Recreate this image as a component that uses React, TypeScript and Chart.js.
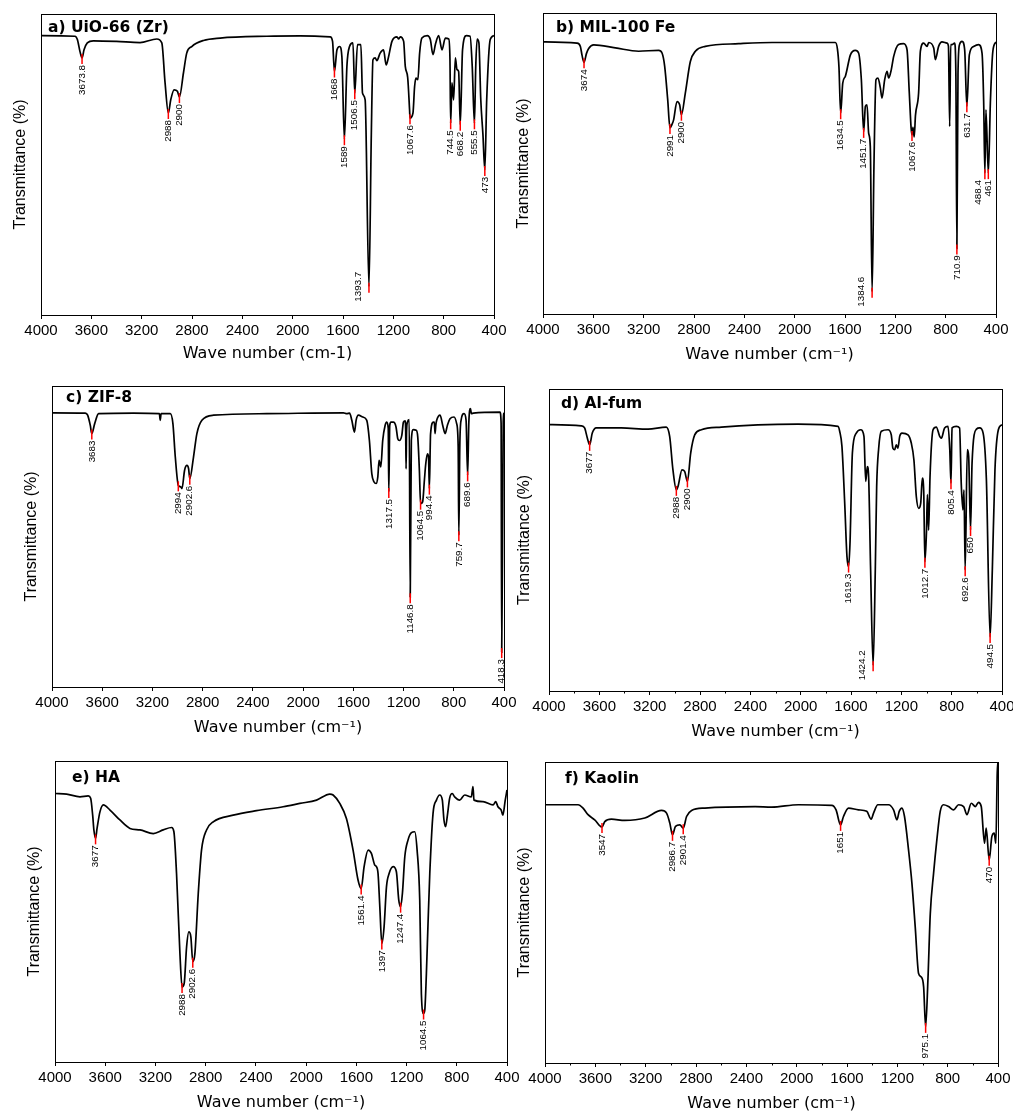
import React, { useEffect, useRef } from 'react';
import { Chart, registerables } from 'chart.js';

Chart.register(...registerables);

type Pair = [number, number]; // [wavenumber cm-1, relative transmittance (0 = bottom of frame, 100 = top)]

// ---------- DATA ----------
const uioSpectrum: Pair[] = [
  [4000, 92.8], [3730, 92.6], [3711, 91.5], [3690, 87.5], [3673.8, 85.4], [3658, 88.1], [3632, 90.4], [3584, 91.1],
  [3400, 90.9], [3213, 90.5], [3080, 91.7], [3040, 90.4], [3014, 77.1], [2988, 67.1], [2969, 71.5], [2942, 74.8],
  [2916, 74.3], [2900, 72.4], [2868, 80.4], [2842, 87.0], [2802, 89.2], [2709, 91.2], [2576, 92.0], [2205, 92.6],
  [1940, 92.7], [1702, 92.4], [1683, 90.9], [1668, 80.9], [1648, 88.1], [1627, 89.2], [1609, 85.9], [1589, 58.4],
  [1569, 82.6], [1548, 89.2], [1521, 90.4], [1506.5, 73.7], [1485, 89.8], [1458, 89.8], [1445, 73.7], [1424, 71.5],
  [1393.7, 9.4], [1375, 60], [1362, 84.8], [1344, 85.4], [1331, 84.5], [1305, 87.0], [1278, 88.1], [1257, 83.1],
  [1240, 85.4], [1211, 90.9], [1171, 92.4], [1158, 91.7], [1145, 92.4], [1118, 90.9], [1105, 82.6], [1086, 78.9],
  [1071, 68.2], [1067.6, 65.4], [1044, 67.1], [1031, 75.9], [1020, 78.7], [1005, 78.2], [991, 87.0], [973, 92.0],
  [930, 92.8], [906, 91.5], [885, 86.5], [865, 90], [840, 92.8], [813, 88.1], [787, 92.0], [760, 91.7], [750, 85],
  [744.5, 63.7], [734, 77.1], [721, 71.5], [707, 85.4], [694, 81.5], [681, 80.9], [668.2, 63.2], [650, 88.1],
  [620, 92.8], [590, 92.6], [573, 82.6], [555.5, 63.7], [545, 82.6], [534, 91.7], [520, 90.4], [505, 71.5],
  [488, 60], [473, 48.2], [458, 71.5], [430, 91.5], [400, 92.8],
];
const uioPeaks = [3673.8, 2988, 2900, 1668, 1589, 1506.5, 1393.7, 1067.6, 744.5, 668.2, 555.5, 473];

const milSpectrum: Pair[] = [
  [4000, 90.4], [3730, 90.0], [3703, 88.9], [3690, 86], [3674, 83.6], [3655, 86.5], [3637, 88.2], [3597, 89.4],
  [3425, 88.4], [3240, 87.3], [3081, 87.6], [3054, 86.7], [3033, 82.3], [3009, 71.2], [2991, 61.8], [2975, 63],
  [2962, 64.5], [2935, 70.6], [2914, 69.5], [2900, 66.2], [2869, 73.4], [2829, 83.9], [2789, 87.3], [2710, 88.9],
  [2445, 89.8], [2180, 90.2], [1677, 90.2], [1660, 88], [1648, 82], [1634.5, 66.7], [1618, 76.7], [1597, 79.0],
  [1557, 86.1], [1518, 87.6], [1492, 86.7], [1470, 77.8], [1451.7, 60.5], [1438, 69.0], [1425, 69.5], [1412, 60.1],
  [1399, 55.7], [1384.6, 7.4], [1370, 49], [1354, 77.8], [1338, 78.4], [1319, 75.1], [1306, 71.7], [1285, 77.8],
  [1266, 80.6], [1253, 78.4], [1232, 81.2], [1213, 85.6], [1174, 89.5], [1134, 89.8], [1107, 87.8], [1089, 73.4],
  [1075, 62], [1067.6, 59.5], [1060, 62], [1050, 58.8], [1040, 66], [1015, 73.4], [1001, 87.3], [975, 90.0],
  [948, 88.9], [935, 90.2], [895, 88.4], [882, 84.5], [856, 88.9], [829, 90.4], [790, 90.0], [778, 89],
  [768, 62.3], [760, 89.5], [750, 89.5], [729, 90], [719, 80], [710.9, 21.8], [702, 80], [690, 89.5],
  [670, 90.6], [649, 87.8], [631.7, 69.0], [612, 86.1], [578, 88.9], [538, 89.5], [511, 86.7], [498, 70.6],
  [488.4, 46.8], [480, 67.8], [461, 46.8], [444, 71.2], [425, 87.3], [400, 90.4],
];
const milPeaks = [3674, 2991, 2900, 1634.5, 1451.7, 1384.6, 1067.6, 710.9, 631.7, 488.4, 461];

const zifSpectrum: Pair[] = [
  [4000, 91.1], [3735, 91.0], [3716, 90.3], [3695, 86.9], [3683, 84.2], [3660, 87.5], [3629, 90.8], [3350, 91.0],
  [3145, 90.8], [3138, 88.6], [3131, 90.8], [3058, 90.8], [3037, 87.5], [3018, 76.4], [2994, 67.0], [2975, 66.5],
  [2965, 65.9], [2944, 72.0], [2925, 73.6], [2912, 72.5], [2902.6, 69.2], [2873, 76.4], [2846, 84.2], [2806, 88.6],
  [2713, 90.3], [2289, 90.8], [1679, 91.1], [1652, 90.8], [1630, 91.0], [1612, 88.6], [1591, 84.7], [1578, 88.6],
  [1559, 90.3], [1525, 89.7], [1493, 88.6], [1472, 81.9], [1453, 70.9], [1435, 68.1], [1419, 67.6], [1405, 69.8],
  [1395, 75.3], [1381, 73.1], [1366, 81.9], [1347, 86.9], [1334, 88.0], [1322, 86], [1317.5, 64.8], [1310, 86.9],
  [1300, 88.0], [1281, 88.0], [1260, 86.4], [1246, 82.5], [1233, 81.9], [1214, 83.6], [1201, 88.0], [1188, 88.4],
  [1183, 85], [1180, 72.5], [1176, 85], [1169, 88.0], [1155, 88.8], [1146.8, 29.8], [1138, 82], [1122, 85.5],
  [1100, 85.3], [1087, 83.1], [1074, 72.0], [1064.5, 60.9], [1048, 61.5], [1034, 68.7], [1023, 74.2], [1010, 77.5],
  [1001, 76.4], [994.4, 65.9], [985, 84], [962, 88.0], [955, 88], [949, 84.2], [943, 87], [936, 88.6],
  [909, 90.3], [888, 86.9], [869, 84.2], [851, 86.9], [830, 89.1], [798, 89.7], [777, 87.5], [765, 80],
  [759.7, 50.4], [752, 80], [742, 88.6], [718, 90.8], [702, 88.6], [689.6, 70.3], [680, 88.0], [667, 92.5],
  [660, 90.8], [644, 91.0], [432, 91.3], [423, 87.5], [418.3, 11.6], [410, 60], [406, 88], [400, 91.1],
];
const zifPeaks = [3683, 2994, 2902.6, 1317.5, 1146.8, 1064.5, 994.4, 759.7, 689.6, 418.3];

const alfumSpectrum: Pair[] = [
  [4000, 88.2], [3743, 87.8], [3717, 87.1], [3695, 83.7], [3677, 81.5], [3656, 85.4], [3624, 87.1], [3425, 87.1],
  [3213, 86.7], [3068, 87.4], [3041, 84.3], [3015, 73.2], [2988, 66.6], [2975, 67.7], [2943, 73.2], [2922, 72.7],
  [2900, 69.4], [2874, 78.8], [2842, 84.8], [2789, 86.5], [2630, 87.4], [2021, 88.4], [1703, 87.6], [1690, 86.0],
  [1672, 81.0], [1650, 62.2], [1632, 44.5], [1619.3, 41.2], [1608, 48.9], [1589, 78.8], [1558, 85.4], [1523, 86.5],
  [1497, 84.3], [1483, 69.4], [1470, 74.3], [1460, 71.0], [1444, 40.0], [1424.2, 8.5], [1407, 40.0], [1396, 67.7],
  [1380, 80.4], [1359, 86.0], [1306, 86.5], [1280, 84.8], [1267, 80.4], [1253, 79.9], [1240, 81.5], [1227, 80.4],
  [1213, 84.3], [1195, 85.4], [1147, 84.8], [1121, 82.1], [1100, 76.5], [1081, 64.4], [1062, 60.5], [1046, 62.2],
  [1033, 70.5], [1022, 66], [1012.7, 42.8], [1000, 53], [993, 65], [983, 53.3], [972, 71.0], [948, 86.5],
  [922, 87.4], [895, 84.3], [882, 83.7], [856, 87.1], [829, 87.6], [815, 80], [805.4, 68.8], [797, 87.1],
  [763, 87.6], [737, 87.1], [724, 68.8], [711, 60.0], [702, 66.6], [692.6, 40.0], [676, 79.9], [665, 77.7],
  [650, 53.3], [638, 75.4], [603, 86.7], [577, 87.1], [550, 85.4], [524, 69.9], [494.5, 17.9], [477, 40.0],
  [456, 73.2], [429, 86.5], [400, 88.2],
];
const alfumPeaks = [3677, 2988, 2900, 1619.3, 1424.2, 1012.7, 805.4, 692.6, 650, 494.5];

const haSpectrum: Pair[] = [
  [4000, 89.2], [3907, 89.0], [3801, 88.1], [3735, 88.4], [3716, 87.6], [3700, 82], [3690, 77], [3677, 74.3],
  [3665, 77.6], [3642, 83.1], [3615, 85.4], [3562, 83.7], [3483, 80.4], [3403, 77.6], [3323, 77.1], [3217, 75.9],
  [3138, 77.1], [3071, 77.9], [3053, 76.5], [3032, 62.6], [3005, 36.0], [2988, 24.9], [2971, 26.1], [2952, 38.2],
  [2934, 43.2], [2918, 41.6], [2902.6, 33.3], [2886, 36.0], [2859, 56.0], [2833, 70.4], [2793, 77.1], [2740, 79.8],
  [2581, 82.0], [2395, 83.5], [2183, 84.8], [2050, 85.9], [1917, 87.0], [1811, 89.0], [1785, 88.7], [1732, 85.9],
  [1679, 80.9], [1626, 70.4], [1586, 60.4], [1561.4, 57.6], [1538, 64.9], [1506, 70.4], [1480, 69.3], [1453, 65.4],
  [1440, 64.9], [1427, 62.6], [1413, 51.6], [1397, 39.4], [1379, 44.9], [1360, 58.2], [1339, 62.6], [1307, 64.9],
  [1281, 63.2], [1262, 53.8], [1247.4, 51.6], [1233, 56.0], [1214, 68.2], [1188, 73.8], [1161, 76.2], [1135, 76.5],
  [1116, 70.4], [1095, 53.8], [1082, 22.7], [1064.5, 16.1], [1055, 17.2], [1042, 29.4], [1029, 46.0], [1015, 62.6],
  [989, 82.6], [962, 87.0], [936, 88.7], [915, 87.0], [902, 80.4], [889, 78.2], [876, 81.5], [857, 87.6],
  [836, 89.2], [817, 88.1], [777, 87.0], [737, 88.7], [684, 88.1], [671, 91.5], [663, 87.0], [591, 86.5],
  [511, 85.4], [490, 86.5], [472, 84.8], [446, 83.7], [433, 82.0], [414, 87.0], [400, 90.4],
];
const haPeaks = [3677, 2988, 2902.6, 1561.4, 1397, 1247.4, 1064.5];

const kaolinSpectrum: Pair[] = [
  [4000, 85.8], [3737, 85.8], [3698, 84.7], [3658, 82.5], [3605, 80.8], [3547, 78.4], [3525, 80.2], [3472, 81.0],
  [3366, 80.6], [3207, 81.4], [3074, 83.9], [3034, 83.0], [3008, 79.7], [2986.7, 75.8], [2963, 78.6], [2928, 79.1],
  [2901.4, 78.0], [2875, 81.9], [2835, 83.9], [2729, 84.7], [2331, 85.2], [2199, 85.0], [1986, 85.8], [1721, 85.6],
  [1687, 84.1], [1651, 79.1], [1628, 81.9], [1588, 84.7], [1509, 84.1], [1443, 83.6], [1408, 81.0], [1389, 83.0],
  [1355, 85.8], [1270, 85.8], [1230, 84.1], [1203, 80.8], [1185, 83.6], [1164, 84.7], [1143, 81.9], [1111, 70.8],
  [1084, 59.7], [1058, 45.3], [1031, 29.7], [1010, 28.6], [991, 25.3], [975.1, 12.0], [957, 27.5], [938, 49.7],
  [912, 63.0], [886, 74.1], [859, 83.6], [833, 85.8], [793, 85.2], [753, 84.1], [713, 85.8], [673, 85.2],
  [647, 82.5], [612, 86.3], [580, 85.2], [555, 86.6], [533, 85.2], [507, 73.0], [494, 78.0], [470, 67.5],
  [449, 75.2], [430, 76.4], [417, 73.0], [406, 96.3], [400, 100],
];
const kaolinPeaks = [3547, 2986.7, 2901.4, 1651, 975.1, 470];

const xTickValues = [4000, 3600, 3200, 2800, 2400, 2000, 1600, 1200, 800, 400];
const panelTitles = ['a) UiO-66 (Zr)', 'b) MIL-100 Fe', 'c) ZIF-8', 'd) Al-fum', 'e) HA', 'f) Kaolin'];

// ---------- LAYOUT ----------
const Y_AXIS_W = 34;
const X_AXIS_H = 52;
const PAD_TOP = 6;
const PAD_RIGHT = 18;

interface PanelCfg {
  title: string; spectrum: Pair[]; peaks: number[];
  left: number; top: number; right: number; bottom: number;
  titleDx: number; titleDy: number; yGap: number; xGap: number;
  xTitle: string; minor: boolean; nudge?: Record<string, number>;
}

const SUP = 'Wave number (cm\u207B\u00B9)';
const panels: PanelCfg[] = [
  { title: panelTitles[0], spectrum: uioSpectrum, peaks: uioPeaks, left: 41, top: 14, right: 494, bottom: 315, titleDx: 7, titleDy: 18, yGap: 20.3, xGap: 39, xTitle: 'Wave number (cm-1)', minor: false },
  { title: panelTitles[1], spectrum: milSpectrum, peaks: milPeaks, left: 543, top: 13, right: 996, bottom: 314, titleDx: 13, titleDy: 19, yGap: 19.7, xGap: 41, xTitle: SUP, minor: false, nudge: { '488.4': -7 } },
  { title: panelTitles[2], spectrum: zifSpectrum, peaks: zifPeaks, left: 52, top: 386, right: 504, bottom: 687, titleDx: 14, titleDy: 16, yGap: 20.3, xGap: 41, xTitle: SUP, minor: false },
  { title: panelTitles[3], spectrum: alfumSpectrum, peaks: alfumPeaks, left: 549, top: 389, right: 1002, bottom: 691, titleDx: 12, titleDy: 19, yGap: 24, xGap: 41, xTitle: SUP, minor: true },
  { title: panelTitles[4], spectrum: haSpectrum, peaks: haPeaks, left: 55, top: 761, right: 507, bottom: 1062, titleDx: 17, titleDy: 21, yGap: 20, xGap: 41, xTitle: SUP, minor: false },
  { title: panelTitles[5], spectrum: kaolinSpectrum, peaks: kaolinPeaks, left: 545, top: 762, right: 998, bottom: 1063, titleDx: 20, titleDy: 21, yGap: 20, xGap: 40.5, xTitle: SUP, minor: true },
];

const SANS = '"Liberation Sans", Arial, sans-serif';
const DEJAVU = '"DejaVu Sans", sans-serif';

function makeAnnotator(cfg: PanelCfg) {
  return {
    id: 'annotator',
    afterDatasetsDraw(chart: any) {
      const { ctx, chartArea: ca, scales } = chart;
      const xs = scales.x;
      const ys = scales.y;
      ctx.save();
      // frame
      ctx.strokeStyle = '#000';
      ctx.lineWidth = 1;
      ctx.strokeRect(Math.round(ca.left) + 0.5, Math.round(ca.top) + 0.5, Math.round(ca.right - ca.left), Math.round(ca.bottom - ca.top));
      // minor ticks
      if (cfg.minor) {
        ctx.beginPath();
        for (let v = 600; v < 4000; v += 400) {
          const px = Math.round(xs.getPixelForValue(v)) + 0.5;
          ctx.moveTo(px, ca.bottom);
          ctx.lineTo(px, ca.bottom + 2.5);
        }
        ctx.stroke();
      }
      // peak markers and labels
      ctx.font = `9.8px ${SANS}`;
      for (const pk of cfg.peaks) {
        let best = cfg.spectrum[0];
        for (const p of cfg.spectrum) if (Math.abs(p[0] - pk) < Math.abs(best[0] - pk)) best = p;
        const px = xs.getPixelForValue(pk);
        const py = ys.getPixelForValue(best[1]);
        ctx.strokeStyle = '#ff0000';
        ctx.lineWidth = 1.5;
        ctx.beginPath();
        ctx.moveTo(px, py - 4);
        ctx.lineTo(px, py + 6);
        ctx.stroke();
        const label = String(pk);
        const tw = ctx.measureText(label).width;
        let ax = px + ((cfg.nudge && cfg.nudge[label]) || 0);
        let ay = py + 7;
        if (ay + tw > ca.bottom - 2) {
          ax = px - 11;
          ay = Math.min(py - tw / 2, ca.bottom - 3 - tw);
        }
        ctx.save();
        ctx.translate(ax, ay);
        ctx.rotate(-Math.PI / 2);
        ctx.fillStyle = '#000';
        ctx.textAlign = 'right';
        ctx.textBaseline = 'middle';
        ctx.fillText(label, 0, 0);
        ctx.restore();
      }
      // panel title
      ctx.fillStyle = '#000';
      ctx.font = `bold 15.5px ${DEJAVU}`;
      ctx.textAlign = 'left';
      ctx.textBaseline = 'alphabetic';
      ctx.fillText(cfg.title, ca.left + cfg.titleDx, ca.top + cfg.titleDy);
      ctx.restore();
    },
  };
}

function Panel({ cfg }: { cfg: PanelCfg }) {
  const ref = useRef<HTMLCanvasElement | null>(null);
  const w = cfg.right - cfg.left + Y_AXIS_W + PAD_RIGHT;
  const h = cfg.bottom - cfg.top + PAD_TOP + X_AXIS_H;
  useEffect(() => {
    if (!ref.current) return;
    const chart = new Chart(ref.current, {
      type: 'line',
      data: {
        datasets: [{
          data: cfg.spectrum.map(([x, y]) => ({ x, y })),
          borderColor: '#000',
          borderWidth: 1.7,
          pointRadius: 0,
          fill: false,
          cubicInterpolationMode: 'monotone',
        }],
      },
      options: {
        responsive: false,
        animation: false,
        devicePixelRatio: 1,
        events: [],
        layout: { padding: { left: 0, top: PAD_TOP, right: PAD_RIGHT, bottom: 0 } },
        plugins: { legend: { display: false }, tooltip: { enabled: false } },
        scales: {
          x: {
            type: 'linear', min: 400, max: 4000, reverse: true,
            afterFit: (s: any) => { s.height = X_AXIS_H; },
            afterBuildTicks: (s: any) => { s.ticks = xTickValues.map((v) => ({ value: v })); },
            ticks: {
              autoSkip: false, maxRotation: 0, color: '#000', padding: 3,
              font: { family: SANS, size: 15 },
              callback: (v: any) => String(v),
            },
            grid: { display: true, drawOnChartArea: false, drawTicks: true, tickLength: 4, tickColor: '#000', tickWidth: 1 },
            border: { display: true, color: '#000', width: 1 },
            title: {
              display: true, text: cfg.xTitle, color: '#000',
              font: { family: DEJAVU, size: 16 },
              padding: { top: 0, bottom: X_AXIS_H - cfg.xGap - 9.6 },
            },
          },
          y: {
            type: 'linear', min: 0, max: 100,
            afterFit: (s: any) => { s.width = Y_AXIS_W; },
            ticks: { display: false },
            grid: { display: false },
            border: { display: true, color: '#000', width: 1 },
            title: {
              display: true, text: 'Transmittance (%)', color: '#000',
              font: { family: SANS, size: 16 },
              padding: { top: Math.max(0, Y_AXIS_W - cfg.yGap - 9.6), bottom: 0 },
            },
          },
        },
      } as any,
      plugins: [makeAnnotator(cfg)],
    });
    return () => chart.destroy();
  }, [cfg]);
  return (
    <canvas
      ref={ref}
      width={w}
      height={h}
      style={{ position: 'absolute', left: cfg.left - Y_AXIS_W, top: cfg.top - PAD_TOP, width: w, height: h }}
    />
  );
}

export default function App() {
  return (
    <div style={{ position: 'absolute', left: 0, top: 0, width: 1013, height: 1112, background: '#fff', overflow: 'hidden' }}>
      {panels.map((p) => <Panel key={p.title} cfg={p} />)}
    </div>
  );
}
